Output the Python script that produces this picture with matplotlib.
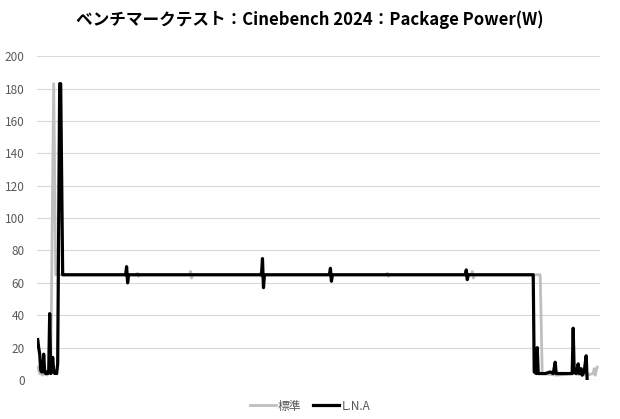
import numpy as np
import matplotlib
matplotlib.use('Agg')
import matplotlib.pyplot as plt

plt.rcParams['font.family'] = ['Noto Sans CJK JP', 'DejaVu Sans']

# sample index / watts
t_std = [0, 1, 2, 3, 5, 7, 9, 11, 13, 16, 18, 60, 99, 100, 101, 102, 152, 153, 154, 155,
         222, 223, 224, 225, 300, 349, 350, 351, 352, 434, 435, 436, 437, 503, 505, 520, 535,
         550, 556, 557, 558, 560]
w_std = [8, 6, 4, 4, 3, 4, 3, 4, 4, 183, 65, 65, 65, 66, 64, 65, 65, 67, 63, 65,
         65, 66, 64, 65, 65, 65, 66, 64, 65, 65, 67, 63, 65, 65, 4, 3, 4,
         3, 4, 7, 3, 8]

t_lna = [0, 1, 2, 3, 4, 5, 6, 7, 8, 9, 10, 11, 12, 13, 14, 15, 16, 17, 18, 19,
         20, 22, 23, 25, 50, 88, 89, 90, 91, 150, 224, 225, 226, 227, 292, 293,
         294, 295, 428, 429, 430, 431, 496, 497, 499, 500, 501, 508, 513, 516,
         518, 519, 528, 535, 536, 537, 539, 541, 542, 544, 545, 547, 549, 550]
w_lna = [25, 20, 16, 6, 5, 5, 16, 5, 4, 5, 4, 5, 41, 4, 5, 14, 6, 4, 5, 4,
         10, 183, 183, 65, 65, 65, 70, 60, 65, 65, 65, 75, 57, 65, 65, 69,
         61, 65, 65, 68, 62, 65, 65, 5, 4, 20, 4, 4, 5, 4,
         11, 4, 4, 4, 32, 5, 4, 10, 4, 7, 3, 5, 15, 0]

yticks = np.arange(0, 201, 20)

fig = plt.figure(figsize=(6.2, 4.19), dpi=100)
ax = fig.add_axes([0.06, 0.093, 0.908, 0.773])

ax.plot(t_std, w_std, color='#bfbfbf', lw=2.0, label='標準', solid_joinstyle='round')
ax.plot(t_lna, w_lna, color='black', lw=2.3, label='L.N.A', solid_joinstyle='round')

ax.set_xlim(-0.5, 563)
ax.set_ylim(0, 200)
ax.set_yticks(yticks)
ax.set_xticks([])
ax.grid(axis='y', color='#d9d9d9', lw=0.8)
ax.set_axisbelow(True)
for s in ax.spines.values():
    s.set_visible(False)
ax.tick_params(axis='y', length=0, labelsize=8.5, labelcolor='#595959', pad=9)

fig.suptitle('ベンチマークテスト：Cinebench 2024：Package Power(W)',
             x=0.5, y=0.975, fontsize=12, fontweight='bold')

fig.legend(loc='lower center', ncol=2, frameon=False, fontsize=8.5,
           bbox_to_anchor=(0.5, -0.01), handlelength=2.2, columnspacing=1.0,
           handletextpad=0.2, labelcolor='#595959')

fig.savefig('out.png', dpi=100)
